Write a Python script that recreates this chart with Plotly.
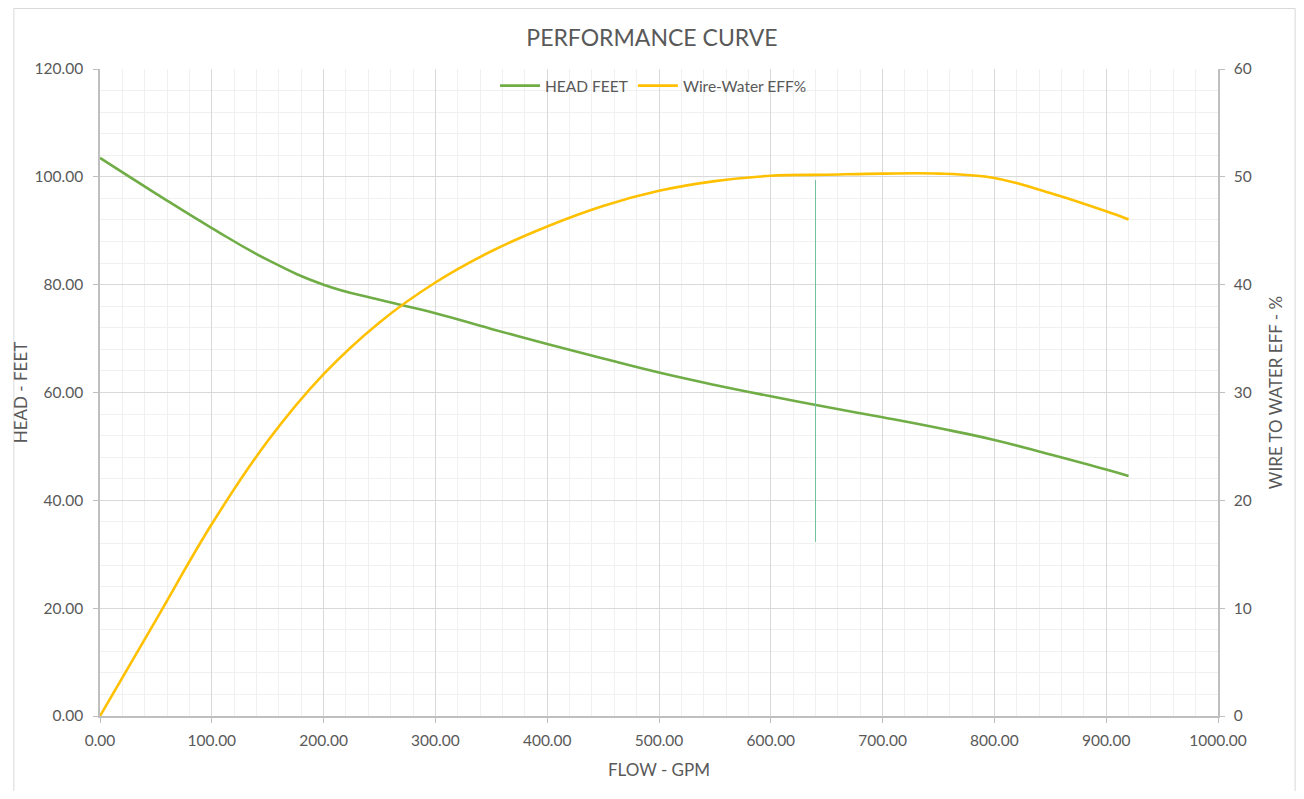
import plotly.graph_objects as go

flow_gpm = [0, 50, 100, 150, 200, 250, 300, 350, 400, 450, 500, 550, 600, 650, 700, 750, 800, 850, 900, 920]
head_feet = [103.5, 96.9, 90.5, 84.6, 80.0, 77.2, 74.7, 71.8, 69.0, 66.3, 63.7, 61.4, 59.3, 57.3, 55.4, 53.4, 51.2, 48.5, 45.7, 44.5]
wire_water_eff = [0.0, 8.9, 17.8, 25.5, 31.7, 36.5, 40.2, 43.1, 45.4, 47.3, 48.7, 49.6, 50.1, 50.2, 50.3, 50.3, 49.9, 48.5, 46.8, 46.05]

marker_flow = [640, 640]
marker_head = [99.4, 32.3]

x_ticks = [0, 100, 200, 300, 400, 500, 600, 700, 800, 900, 1000]
y_ticks = [0, 20, 40, 60, 80, 100, 120]
y2_ticks = [0, 10, 20, 30, 40, 50, 60]

FONT = "Lato, 'Open Sans', sans-serif"
TXT = "#595959"

fig = go.Figure()
fig.add_trace(go.Scatter(x=flow_gpm, y=head_feet, name="HEAD FEET", mode="lines",
                         line=dict(color="#70AD47", width=2.6, shape="spline", smoothing=1.3)))
fig.add_trace(go.Scatter(x=flow_gpm, y=wire_water_eff, name="Wire-Water EFF%", mode="lines",
                         yaxis="y2",
                         line=dict(color="#FFC000", width=2.6, shape="spline", smoothing=1.0)))
fig.add_trace(go.Scatter(x=marker_flow, y=marker_head, mode="lines", showlegend=False,
                         line=dict(color="#6FC09C", width=1), hoverinfo="skip"))

# page has an 8px body margin; figure coords = page coords - 8
W, H = 1288, 783
L, R, T, B = 87, 1210, 61, 708
pw, ph = R - L, B - T

bx0 = (0.5 - L) / pw
bx1 = (W - 0.5 - L) / pw
by_top = (B - 0.5) / ph
by_bot = (B - H - 5) / ph
border = dict(color="#D9D9D9", width=1)

fig.update_layout(
    width=W, height=H,
    margin=dict(l=L, r=W - R, t=T, b=H - B, pad=0),
    paper_bgcolor="white", plot_bgcolor="white",
    font=dict(family=FONT, color=TXT, size=15),
    title=dict(text="PERFORMANCE CURVE", x=(652 - 8) / W, xanchor="center", y=1 - 30 / H, yanchor="middle",
               font=dict(size=23, color=TXT, family=FONT)),
    legend=dict(orientation="h", x=(651 - 8 - L) / pw, xanchor="center", y=1.0, yanchor="top",
                bgcolor="rgba(0,0,0,0)", font=dict(size=15.5, color=TXT, family=FONT),
                itemwidth=40, tracegroupgap=0),
    xaxis=dict(range=[0, 1000], tickvals=x_ticks, tickformat=".2f",
               showgrid=True, gridcolor="#D9D9D9", gridwidth=1,
               minor=dict(dtick=20, showgrid=True, gridcolor="#F0F0F0", gridwidth=1, ticks=""),
               showline=True, linecolor="#BFBFBF", linewidth=1.5,
               ticks="outside", ticklen=5, tickcolor="#BFBFBF", ticklabelstandoff=5,
               zeroline=False, tickfont=dict(size=15.5, color=TXT),
               title=dict(text="FLOW - GPM", font=dict(size=17, color=TXT), standoff=16)),
    yaxis=dict(range=[0, 120], tickvals=y_ticks, tickformat=".2f",
               showgrid=True, gridcolor="#D9D9D9", gridwidth=1,
               minor=dict(dtick=4, showgrid=True, gridcolor="#F0F0F0", gridwidth=1, ticks=""),
               showline=True, linecolor="#BFBFBF", linewidth=1.5,
               ticks="outside", ticklen=5, tickcolor="#BFBFBF", ticklabelstandoff=7,
               zeroline=False, tickfont=dict(size=15.5, color=TXT),
               title=dict(text="HEAD - FEET", font=dict(size=17, color=TXT), standoff=3)),
    yaxis2=dict(range=[0, 60], tickvals=y2_ticks, overlaying="y", side="right",
                showgrid=False, showline=True, linecolor="#BFBFBF", linewidth=1.5,
                ticks="outside", ticklen=5, tickcolor="#BFBFBF", ticklabelstandoff=6, zeroline=False,
                tickfont=dict(size=15.5, color=TXT),
                title=dict(text="WIRE TO WATER EFF - %", font=dict(size=17, color=TXT), standoff=19)),
    shapes=[
        dict(type="line", xref="paper", yref="paper", x0=bx0, x1=bx1, y0=by_top, y1=by_top, line=border, layer="below"),
        dict(type="line", xref="paper", yref="paper", x0=bx0, x1=bx0, y0=by_top, y1=by_bot, line=border, layer="below"),
        dict(type="line", xref="paper", yref="paper", x0=bx1, x1=bx1, y0=by_top, y1=by_bot, line=border, layer="below"),
    ],
)

fig.write_html("out.html")
